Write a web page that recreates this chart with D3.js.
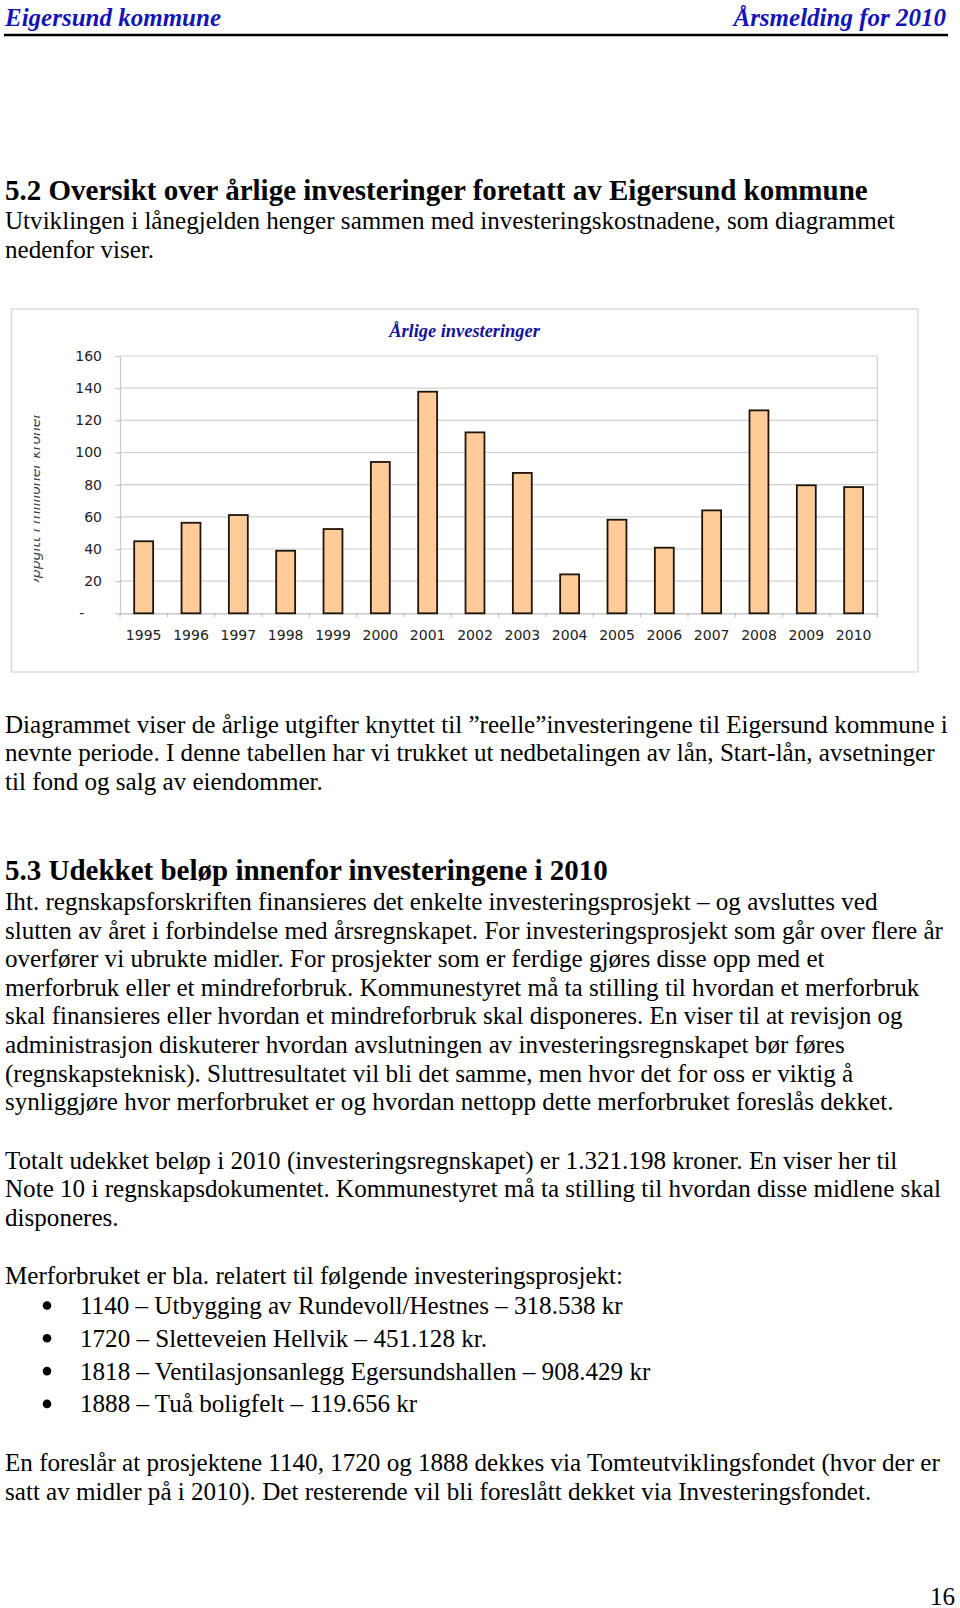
<!DOCTYPE html>
<html>
<head>
<meta charset="utf-8">
<script src="https://cdn.jsdelivr.net/npm/d3@7"></script>
<style>
  html, body { margin: 0; padding: 0; background: #fff; }
  svg { display: block; }
</style>
</head>
<body>
<div id="chart"></div>
<script>
// ---- Data ----
const years = ["1995","1996","1997","1998","1999","2000","2001","2002","2003","2004","2005","2006","2007","2008","2009","2010"];
const investments = [44.8, 56.3, 61.1, 38.9, 52.4, 94.1, 137.8, 112.5, 87.3, 24.2, 58.2, 40.8, 64.0, 126.2, 79.6, 78.5];
const yTicks = [0, 20, 40, 60, 80, 100, 120, 140, 160];
const chartTitle = "Årlige investeringer";
const yAxisTitle = "Oppgitt i millioner kroner";

const headerLeft = "Eigersund kommune";
const headerRight = "Årsmelding for 2010";
const heading1 = "5.2 Oversikt over årlige investeringer foretatt av Eigersund kommune";
const introLines = [
  "Utviklingen i lånegjelden henger sammen med investeringskostnadene, som diagrammet",
  "nedenfor viser."
];
const afterChartLines = [
  "Diagrammet viser de årlige utgifter knyttet til \u201Dreelle\u201Dinvesteringene til Eigersund kommune i",
  "nevnte periode. I denne tabellen har vi trukket ut nedbetalingen av lån, Start-lån, avsetninger",
  "til fond og salg av eiendommer."
];
const heading2 = "5.3 Udekket beløp innenfor investeringene i 2010";
const para2Lines = [
  "Iht. regnskapsforskriften finansieres det enkelte investeringsprosjekt \u2013 og avsluttes ved",
  "slutten av året i forbindelse med årsregnskapet. For investeringsprosjekt som går over flere år",
  "overfører vi ubrukte midler. For prosjekter som er ferdige gjøres disse opp med et",
  "merforbruk eller et mindreforbruk. Kommunestyret må ta stilling til hvordan et merforbruk",
  "skal finansieres eller hvordan et mindreforbruk skal disponeres. En viser til at revisjon og",
  "administrasjon diskuterer hvordan avslutningen av investeringsregnskapet bør føres",
  "(regnskapsteknisk). Sluttresultatet vil bli det samme, men hvor det for oss er viktig å",
  "synliggjøre hvor merforbruket er og hvordan nettopp dette merforbruket foreslås dekket."
];
const para3Lines = [
  "Totalt udekket beløp i 2010 (investeringsregnskapet) er 1.321.198 kroner. En viser her til",
  "Note 10 i regnskapsdokumentet. Kommunestyret må ta stilling til hvordan disse midlene skal",
  "disponeres."
];
const listIntro = "Merforbruket er bla. relatert til følgende investeringsprosjekt:";
const bullets = [
  "1140 \u2013 Utbygging av Rundevoll/Hestnes \u2013 318.538 kr",
  "1720 \u2013 Sletteveien Hellvik \u2013 451.128 kr.",
  "1818 \u2013 Ventilasjonsanlegg Egersundshallen \u2013 908.429 kr",
  "1888 \u2013 Tuå boligfelt \u2013 119.656 kr"
];
const para4Lines = [
  "En foreslår at prosjektene 1140, 1720 og 1888 dekkes via Tomteutviklingsfondet (hvor der er",
  "satt av midler på i 2010). Det resterende vil bli foreslått dekket via Investeringsfondet."
];
const pageNumber = "16";

// ---- Page ----
const W = 960, H = 1608;
const svg = d3.select("#chart").append("svg").attr("width", W).attr("height", H);
svg.append("rect").attr("width", W).attr("height", H).attr("fill", "#fff");

const serif = "'Liberation Serif', 'Times New Roman', serif";
const bodySize = 25.1;
const headSize = 29;

function textLine(str, x, yc, opts = {}) {
  return svg.append("text")
    .attr("x", x).attr("y", yc).attr("dy", "0.34em")
    .attr("font-family", opts.family || serif)
    .attr("font-size", opts.size || bodySize)
    .attr("font-weight", opts.weight || "normal")
    .attr("font-style", opts.style || "normal")
    .attr("fill", opts.fill || "#000")
    .attr("text-anchor", opts.anchor || "start")
    .text(str);
}
function lines(arr, x, y0, step, opts) {
  arr.forEach((s, i) => textLine(s, x, y0 + i * step, opts));
}

// Header
textLine(headerLeft, 5, 17, {size: 25, weight: "bold", style: "italic", fill: "#1515b5"});
textLine(headerRight, 946, 17, {size: 25, weight: "bold", style: "italic", fill: "#1515b5", anchor: "end"});
svg.append("line").attr("x1", 4).attr("x2", 948).attr("y1", 35).attr("y2", 35)
  .attr("stroke", "#000").attr("stroke-width", 2.6);

// Section 5.2
textLine(heading1, 5, 190, {size: headSize, weight: "bold"});
lines(introLines, 5, 220.5, 28.6);

// ---- Chart ----
const frame = {x: 11.5, y: 309, w: 906.5, h: 363};
svg.append("rect").attr("x", frame.x).attr("y", frame.y).attr("width", frame.w).attr("height", frame.h)
  .attr("fill", "#fff").attr("stroke", "#d4d4d4").attr("stroke-width", 1.2);

const plot = {left: 120, right: 877.3, top: 356, bottom: 613.3};
const x = d3.scaleBand().domain(years).range([plot.left, plot.right]).paddingInner(0.6).paddingOuter(0.3);
const y = d3.scaleLinear().domain([0, 160]).range([plot.bottom, plot.top]);

const g = svg.append("g");

// gridlines
g.append("g").selectAll("line").data(yTicks.filter(d => d > 0)).join("line")
  .attr("x1", plot.left).attr("x2", plot.right)
  .attr("y1", d => y(d)).attr("y2", d => y(d))
  .attr("stroke", "#cfcfcf").attr("stroke-width", 1.2);
// right border of plot area
g.append("line").attr("x1", plot.right).attr("x2", plot.right).attr("y1", plot.top).attr("y2", plot.bottom)
  .attr("stroke", "#cfcfcf").attr("stroke-width", 1.2);

// y axis
const yAxis = d3.axisLeft(y).tickValues(yTicks).tickSizeInner(5).tickSizeOuter(0).tickPadding(13)
  .tickFormat(d => d === 0 ? "-\u00A0\u00A0\u00A0\u00A0" : d3.format("d")(d));
const yg = g.append("g").attr("transform", `translate(${plot.left},0)`).call(yAxis);
yg.select(".domain").attr("stroke", "#c8c8c8").attr("stroke-width", 1.2);
yg.selectAll(".tick line").attr("stroke", "#c8c8c8").attr("stroke-width", 1.2);
yg.selectAll("text").attr("font-family", "'DejaVu Sans', sans-serif").attr("font-size", 14).attr("fill", "#222");

// x axis
const xAxis = d3.axisBottom(x).tickSize(0).tickPadding(17);
const xg = g.append("g").attr("transform", `translate(0,${plot.bottom})`).call(xAxis);
xg.select(".domain").attr("stroke", "#bdbdbd").attr("stroke-width", 1.2);
xg.selectAll("text").attr("font-family", "'DejaVu Sans', sans-serif").attr("font-size", 14).attr("fill", "#222");
// tick marks at category boundaries
const step = x.step();
const boundaries = years.map(d => x(d) - (step - x.bandwidth()) / 2).concat([plot.right]);
g.append("g").selectAll("line").data(boundaries).join("line")
  .attr("x1", d => d).attr("x2", d => d).attr("y1", plot.bottom).attr("y2", plot.bottom + 4)
  .attr("stroke", "#bdbdbd").attr("stroke-width", 1.2);

// bars
g.append("g").selectAll("rect").data(years.map((d, i) => ({year: d, v: investments[i]}))).join("rect")
  .attr("x", d => x(d.year)).attr("width", x.bandwidth())
  .attr("y", d => y(d.v)).attr("height", d => y(0) - y(d.v))
  .attr("fill", "#ffcc99").attr("stroke", "#1e140c").attr("stroke-width", 1.8);

// chart title
svg.append("text").attr("x", 464.5).attr("y", 331).attr("dy", "0.34em")
  .attr("text-anchor", "middle").attr("font-family", serif).attr("font-size", 18.4)
  .attr("font-weight", "bold").attr("font-style", "italic").attr("fill", "#12129a")
  .text(chartTitle);

// y axis title (clipped, only lower halves of glyphs visible)
svg.append("clipPath").attr("id", "ytclip").append("rect")
  .attr("x", 34).attr("y", 413).attr("width", 20).attr("height", 169);
svg.append("g").attr("clip-path", "url(#ytclip)")
  .append("text")
  .attr("transform", "translate(40,501) rotate(-90)")
  .attr("text-anchor", "middle")
  .attr("font-family", "'DejaVu Sans', sans-serif").attr("font-size", 14).attr("font-style", "italic")
  .attr("fill", "#444")
  .text(yAxisTitle);

// ---- Text after chart ----
lines(afterChartLines, 5, 724, 28.6);
textLine(heading2, 5, 870, {size: headSize, weight: "bold"});
lines(para2Lines, 5, 901.5, 28.6);
lines(para3Lines, 5, 1160, 28.6);
textLine(listIntro, 5, 1275);
bullets.forEach((b, i) => {
  const yc = 1305.5 + i * 32.8;
  svg.append("circle").attr("cx", 47).attr("cy", yc).attr("r", 4.3).attr("fill", "#000");
  textLine(b, 80, yc);
});
lines(para4Lines, 5, 1462.5, 28.6);
textLine(pageNumber, 955, 1596, {anchor: "end"});
</script>
</body>
</html>
